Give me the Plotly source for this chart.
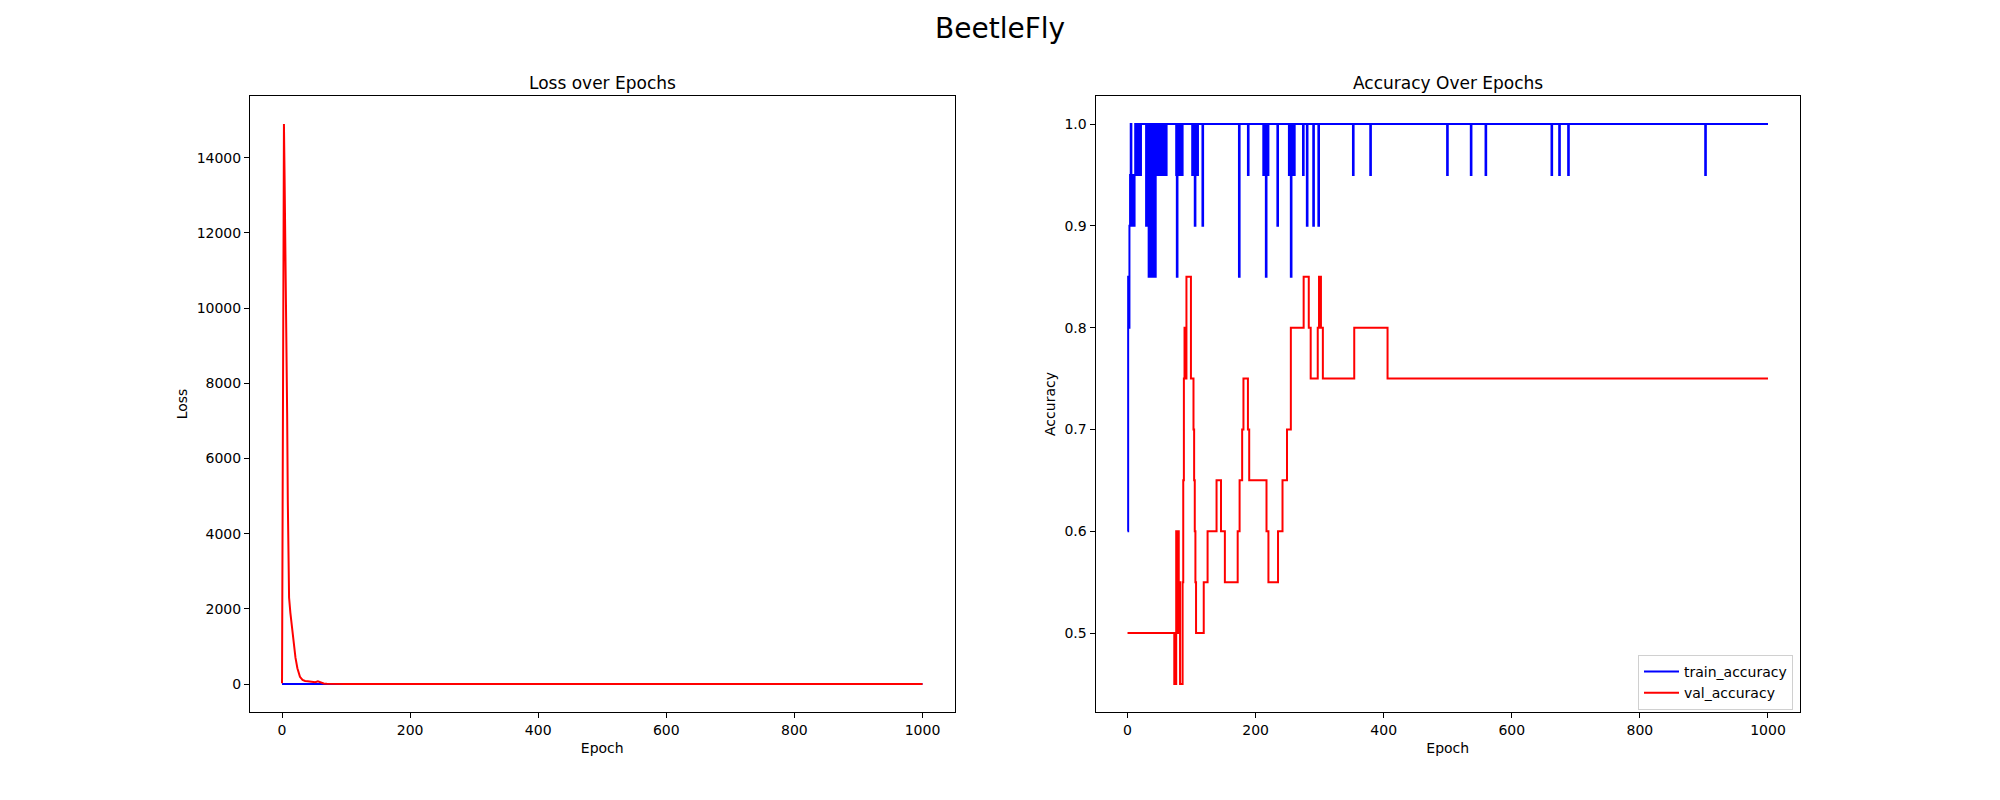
import plotly.graph_objects as go
from plotly.subplots import make_subplots

FONT = "DejaVu Sans"

# loss curves (epoch, value)
train_loss_epochs = [0, 10, 30, 60, 100, 300, 1000]
train_loss_values = [0.9, 0.7, 0.5, 0.3, 0.2, 0.1, 0.05]

val_loss_epochs = [0, 3, 4, 5, 6, 7, 8, 9, 10, 11, 13, 16, 18, 21, 24, 28, 32,
                   36, 40, 44, 48, 52, 56, 60, 65, 70, 100, 1000]
val_loss_values = [20, 14900, 13500, 12200, 11000, 9600, 7200, 4900, 3300, 2300,
                   1900, 1400, 1050, 700, 420, 190, 110, 80, 75, 60, 40, 45, 70,
                   35, 12, 6, 3, 2]

# accuracy curves as change points: value holds from that epoch until the next one
train_acc_epochs = [0, 1, 2, 3, 4, 5, 6, 7, 8, 9, 10, 11, 12, 14, 15, 16, 17, 20, 21,
                    29, 30, 32, 33, 34, 35, 36, 37, 38, 39, 40, 41, 42, 43, 44, 45, 46,
                    48, 49, 51, 52, 54, 55, 57, 58, 60, 61, 76, 77, 78, 79, 80, 81,
                    83, 84, 85, 86, 101, 102, 104, 105, 106, 109, 110, 117, 118,
                    174, 175, 188, 189, 212, 213, 215, 216, 217, 219, 220, 234, 235,
                    252, 253, 255, 256, 257, 260, 261, 274, 275, 280, 281, 290, 291,
                    298, 299, 352, 353, 379, 380, 499, 500, 536, 537, 559, 560,
                    662, 663, 674, 675, 688, 689, 902, 903, 1000]
train_acc_values = [0.60, 0.85, 0.80, 0.90, 0.95, 1.00, 0.90, 0.95, 0.90, 0.95, 0.90, 0.95,
                    1.00, 0.95, 1.00, 0.95, 1.00, 0.95, 1.00,
                    0.90, 1.00, 0.95, 0.85, 1.00, 0.95, 0.85, 1.00, 0.90, 0.85, 0.95,
                    1.00, 0.95, 0.85, 1.00, 0.95, 1.00,
                    0.95, 1.00, 0.95, 1.00, 0.95, 1.00, 0.95, 1.00, 0.95, 1.00,
                    0.95, 0.85, 0.95, 1.00, 0.95, 1.00,
                    0.95, 1.00, 0.95, 1.00, 0.95, 1.00, 0.95, 0.90, 1.00, 0.95, 1.00,
                    0.90, 1.00,
                    0.85, 1.00, 0.95, 1.00, 0.95, 1.00, 0.95, 0.85, 1.00, 0.95, 1.00,
                    0.90, 1.00,
                    0.95, 1.00, 0.85, 0.95, 1.00, 0.95, 1.00, 0.95, 1.00, 0.90, 1.00,
                    0.90, 1.00,
                    0.90, 1.00, 0.95, 1.00, 0.95, 1.00, 0.95, 1.00, 0.95, 1.00,
                    0.95, 1.00,
                    0.95, 1.00, 0.95, 1.00, 0.95, 1.00, 0.95, 1.00, 1.00]

val_acc_epochs = [0, 73, 76, 78, 79, 80, 81, 82, 86, 87, 88, 89, 91, 92, 99, 103, 104,
                  105, 106, 107, 119, 125, 139, 146, 152, 172, 175, 179, 181, 188,
                  190, 217, 220, 235, 242, 249, 255, 275, 283, 286, 297, 299, 302,
                  305, 354, 406, 1000]
val_acc_values = [0.50, 0.45, 0.60, 0.50, 0.60, 0.50, 0.55, 0.45, 0.55, 0.65, 0.75,
                  0.80, 0.75, 0.85, 0.75, 0.70, 0.65, 0.60, 0.55, 0.50, 0.55, 0.60,
                  0.65, 0.60, 0.55, 0.60, 0.65, 0.70, 0.75, 0.70, 0.65, 0.60, 0.55,
                  0.60, 0.65, 0.70, 0.80, 0.85, 0.80, 0.75, 0.80, 0.85, 0.80, 0.75,
                  0.80, 0.75, 0.75]

# the page puts the figure 8px in from the top-left corner, so pull everything back
DX = -8 / 2000
DY = 8 / 800
LEFT_DOM = [0.125 + DX, 0.47725 + DX]
RIGHT_DOM = [0.54775 + DX, 0.9 + DX]
Y_DOM = [0.11 + DY, 0.88 + DY]

fig = make_subplots(rows=1, cols=2)

fig.add_trace(go.Scatter(x=train_loss_epochs, y=train_loss_values, mode="lines",
                         line=dict(color="blue", width=2), name="train_loss",
                         showlegend=False), row=1, col=1)
fig.add_trace(go.Scatter(x=val_loss_epochs, y=val_loss_values, mode="lines",
                         line=dict(color="red", width=2), name="val_loss",
                         showlegend=False), row=1, col=1)
fig.add_trace(go.Scatter(x=train_acc_epochs, y=train_acc_values, mode="lines",
                         line=dict(color="blue", width=2, shape="hv"),
                         name="train_accuracy"), row=1, col=2)
fig.add_trace(go.Scatter(x=val_acc_epochs, y=val_acc_values, mode="lines",
                         line=dict(color="red", width=2, shape="hv"),
                         name="val_accuracy"), row=1, col=2)

axis_style = dict(showline=True, linecolor="black", linewidth=1, mirror=True,
                  ticks="outside", ticklen=5, tickwidth=1, tickcolor="black",
                  showgrid=False, zeroline=False,
                  tickfont=dict(family=FONT, size=14, color="black"))

fig.update_xaxes(**axis_style, range=[-50, 1050], tickvals=[0, 200, 400, 600, 800, 1000],
                 title=dict(text="Epoch", font=dict(family=FONT, size=14, color="black"),
                            standoff=6))
fig.update_xaxes(domain=LEFT_DOM, row=1, col=1)
fig.update_xaxes(domain=RIGHT_DOM, row=1, col=2)

fig.update_yaxes(**axis_style)
fig.update_yaxes(domain=Y_DOM, range=[-745, 15645], tickformat="d",
                 tickvals=list(range(0, 14001, 2000)),
                 title=dict(text="Loss", font=dict(family=FONT, size=14, color="black"),
                            standoff=5), row=1, col=1)
fig.update_yaxes(domain=Y_DOM, range=[0.4225, 1.0275],
                 tickvals=[0.5, 0.6, 0.7, 0.8, 0.9, 1.0], tickformat=".1f",
                 title=dict(text="Accuracy", font=dict(family=FONT, size=14, color="black"),
                            standoff=5), row=1, col=2)

fig.add_annotation(text="Loss over Epochs", x=sum(LEFT_DOM) / 2, y=Y_DOM[1] + 1 / 800,
                   xref="paper", yref="paper", xanchor="center", yanchor="bottom",
                   showarrow=False, font=dict(family=FONT, size=17, color="black"))
fig.add_annotation(text="Accuracy Over Epochs", x=sum(RIGHT_DOM) / 2, y=Y_DOM[1] + 1 / 800,
                   xref="paper", yref="paper", xanchor="center", yanchor="bottom",
                   showarrow=False, font=dict(family=FONT, size=17, color="black"))
fig.add_annotation(text="BeetleFly", x=0.5 + DX, y=1 - 20 / 800, xref="paper", yref="paper",
                   xanchor="center", yanchor="middle", showarrow=False,
                   font=dict(family=FONT, size=28, color="black"))

fig.update_layout(
    width=2000, height=800,
    margin=dict(l=0, r=0, t=0, b=0),
    plot_bgcolor="white", paper_bgcolor="white",
    font=dict(family=FONT, size=14, color="black"),
    legend=dict(x=0.8965 + DX, y=0.11 + 2 / 800 + DY, xanchor="right", yanchor="bottom",
                bgcolor="rgba(255,255,255,0.8)", bordercolor="#d0d0d0", borderwidth=1,
                font=dict(family=FONT, size=14, color="black"),
                itemwidth=35, tracegroupgap=0),
)

fig.write_html("out.html")
